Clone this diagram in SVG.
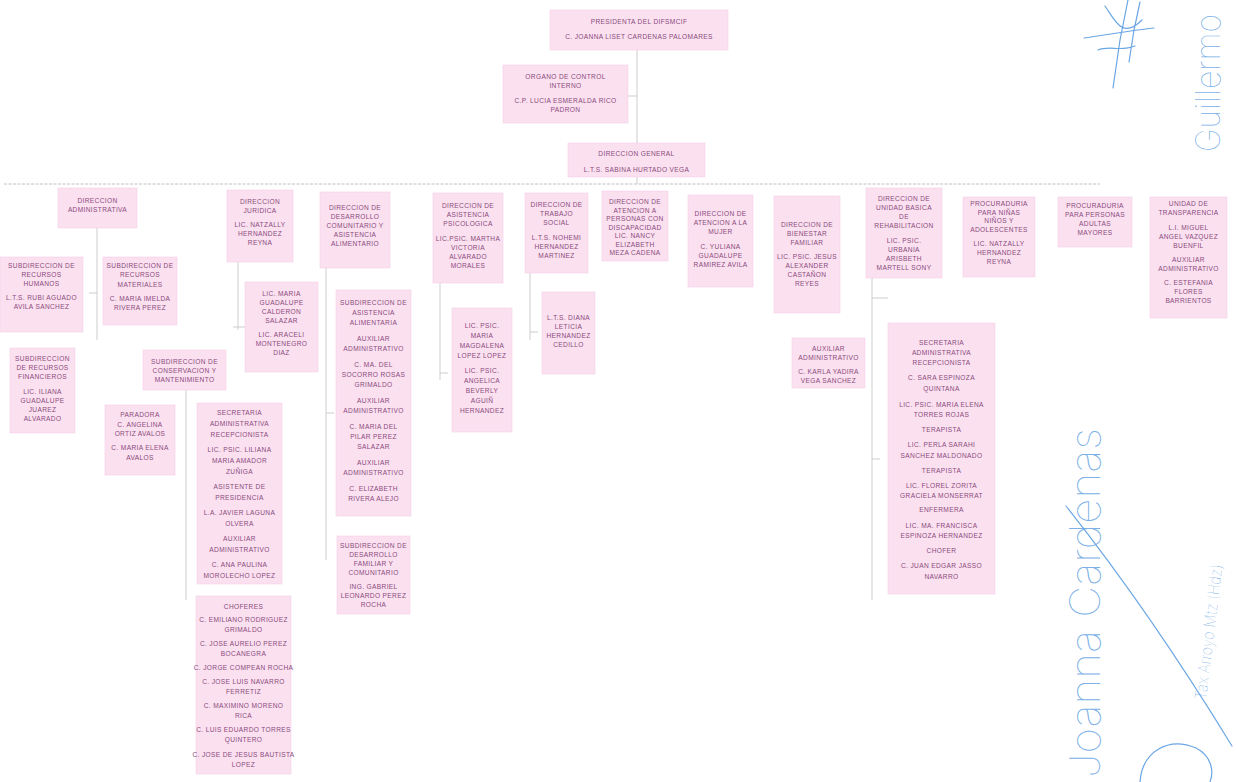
<svg xmlns="http://www.w3.org/2000/svg" width="1236" height="782" viewBox="0 0 1236 782">
<style>
.bx{fill:#fbe0f0;stroke:#f5d0e6;stroke-width:0.6}
.t{font-family:"Liberation Sans",Arial,sans-serif;font-size:6.6px;fill:#8a4b7c;text-anchor:middle;dominant-baseline:central;letter-spacing:0.35px}
.c{stroke:#c9c6c6;stroke-width:0.9;fill:none}
.cd{stroke:#c2bfbf;stroke-width:1;fill:none;stroke-dasharray:3 1.5}
.sig{font-family:Inter,"Open Sans",sans-serif;font-weight:100;fill:#6aa6e4;fill-opacity:0.9}
.sp{stroke:#6aa6e4;stroke-width:1.2;fill:none;stroke-linecap:round}
</style>
<rect width="1236" height="782" fill="#ffffff"/>

<g id="connectors">
<line class="c" x1="637" y1="50" x2="637" y2="143"/>
<line class="c" x1="628" y1="96" x2="637" y2="96"/>
<line class="c" x1="637" y1="177" x2="637" y2="184"/>
<line class="cd" x1="4" y1="184" x2="1100" y2="184"/>
<line class="c" x1="97" y1="228" x2="97" y2="340"/>
<line class="c" x1="89" y1="293" x2="97" y2="293"/>
<line class="c" x1="186" y1="390" x2="186" y2="600"/>
<line class="c" x1="238" y1="262" x2="238" y2="330"/>
<line class="c" x1="233" y1="327" x2="245" y2="327"/>
<line class="c" x1="326" y1="268" x2="326" y2="560"/>
<line class="c" x1="326" y1="413" x2="334" y2="413"/>
<line class="c" x1="440" y1="283" x2="440" y2="380"/>
<line class="c" x1="440" y1="373" x2="448" y2="373"/>
<line class="c" x1="530" y1="273" x2="530" y2="340"/>
<line class="c" x1="530" y1="332" x2="538" y2="332"/>
<line class="c" x1="872" y1="278" x2="872" y2="600"/>
<line class="c" x1="872" y1="298" x2="888" y2="298"/>
<line class="c" x1="872" y1="459" x2="880" y2="459"/>
</g>

<g id="n-presidenta">
<rect class="bx" x="550" y="10" width="178" height="40"/>
<text class="t"><tspan x="639" y="21">PRESIDENTA DEL DIFSMCIF</tspan><tspan x="639" y="36">C. JOANNA LISET CARDENAS PALOMARES</tspan></text>
</g>
<g id="n-organo">
<rect class="bx" x="503" y="65" width="125" height="58"/>
<text class="t"><tspan x="565.5" y="76">ORGANO DE CONTROL</tspan><tspan x="565.5" y="85">INTERNO</tspan><tspan x="565.5" y="100">C.P. LUCIA ESMERALDA RICO</tspan><tspan x="565.5" y="109">PADRON</tspan></text>
</g>
<g id="n-general">
<rect class="bx" x="568" y="143" width="137" height="34"/>
<text class="t"><tspan x="636.5" y="153">DIRECCION GENERAL</tspan><tspan x="636.5" y="169">L.T.S. SABINA HURTADO VEGA</tspan></text>
</g>

<g id="n-admin">
<rect class="bx" x="58" y="188" width="79" height="40"/>
<text class="t"><tspan x="97.5" y="200">DIRECCION</tspan><tspan x="97.5" y="209">ADMINISTRATIVA</tspan></text>
</g>
<g id="n-rh">
<rect class="bx" x="0" y="257" width="83" height="75"/>
<text class="t"><tspan x="41.5" y="265">SUBDIRECCION DE</tspan><tspan x="41.5" y="274">RECURSOS</tspan><tspan x="41.5" y="283">HUMANOS</tspan><tspan x="41.5" y="297">L.T.S. RUBI AGUADO</tspan><tspan x="41.5" y="306">AVILA SANCHEZ</tspan></text>
</g>
<g id="n-rm">
<rect class="bx" x="103" y="257" width="74" height="68"/>
<text class="t"><tspan x="140" y="265">SUBDIRECCION DE</tspan><tspan x="140" y="274">RECURSOS</tspan><tspan x="140" y="284">MATERIALES</tspan><tspan x="140" y="298">C. MARIA IMELDA</tspan><tspan x="140" y="307">RIVERA PEREZ</tspan></text>
</g>
<g id="n-rf">
<rect class="bx" x="10" y="348" width="65" height="85"/>
<text class="t"><tspan x="42.5" y="358">SUBDIRECCION</tspan><tspan x="42.5" y="367">DE RECURSOS</tspan><tspan x="42.5" y="376">FINANCIEROS</tspan><tspan x="42.5" y="391">LIC. ILIANA</tspan><tspan x="42.5" y="400">GUADALUPE</tspan><tspan x="42.5" y="409">JUAREZ</tspan><tspan x="42.5" y="418">ALVARADO</tspan></text>
</g>
<g id="n-conservacion">
<rect class="bx" x="143" y="350" width="83" height="40"/>
<text class="t"><tspan x="184.5" y="361">SUBDIRECCION DE</tspan><tspan x="184.5" y="370">CONSERVACION Y</tspan><tspan x="184.5" y="379">MANTENIMIENTO</tspan></text>
</g>
<g id="n-paradora">
<rect class="bx" x="105" y="405" width="70" height="70"/>
<text class="t"><tspan x="140" y="414">PARADORA</tspan><tspan x="140" y="424">C. ANGELINA</tspan><tspan x="140" y="433">ORTIZ AVALOS</tspan><tspan x="140" y="447">C. MARIA ELENA</tspan><tspan x="140" y="457">AVALOS</tspan></text>
</g>
<g id="n-secretaria-pres">
<rect class="bx" x="197" y="403" width="85" height="181"/>
<text class="t"><tspan x="239.5" y="412">SECRETARIA</tspan><tspan x="239.5" y="423">ADMINISTRATIVA</tspan><tspan x="239.5" y="434">RECEPCIONISTA</tspan><tspan x="239.5" y="449">LIC. PSIC. LILIANA</tspan><tspan x="239.5" y="460">MARIA AMADOR</tspan><tspan x="239.5" y="471">ZUÑIGA</tspan><tspan x="239.5" y="486">ASISTENTE DE</tspan><tspan x="239.5" y="497">PRESIDENCIA</tspan><tspan x="239.5" y="512">L.A. JAVIER LAGUNA</tspan><tspan x="239.5" y="523">OLVERA</tspan><tspan x="239.5" y="538">AUXILIAR</tspan><tspan x="239.5" y="549">ADMINISTRATIVO</tspan><tspan x="239.5" y="564">C. ANA PAULINA</tspan><tspan x="239.5" y="575">MOROLECHO LOPEZ</tspan></text>
</g>
<g id="n-choferes">
<rect class="bx" x="196" y="596" width="95" height="178"/>
<text class="t"><tspan x="243.5" y="606">CHOFERES</tspan><tspan x="243.5" y="619">C. EMILIANO RODRIGUEZ</tspan><tspan x="243.5" y="629">GRIMALDO</tspan><tspan x="243.5" y="643">C. JOSE AURELIO PEREZ</tspan><tspan x="243.5" y="653">BOCANEGRA</tspan><tspan x="243.5" y="667">C. JORGE COMPEAN ROCHA</tspan><tspan x="243.5" y="681">C. JOSE LUIS NAVARRO</tspan><tspan x="243.5" y="691">FERRETIZ</tspan><tspan x="243.5" y="705">C. MAXIMINO MORENO</tspan><tspan x="243.5" y="715">RICA</tspan><tspan x="243.5" y="729">C. LUIS EDUARDO TORRES</tspan><tspan x="243.5" y="739">QUINTERO</tspan><tspan x="243.5" y="754">C. JOSE DE JESUS BAUTISTA</tspan><tspan x="243.5" y="764">LOPEZ</tspan></text>
</g>

<g id="n-juridica">
<rect class="bx" x="227" y="190" width="66" height="72"/>
<text class="t"><tspan x="260" y="201">DIRECCION</tspan><tspan x="260" y="210">JURIDICA</tspan><tspan x="260" y="224">LIC. NATZALLY</tspan><tspan x="260" y="233">HERNANDEZ</tspan><tspan x="260" y="242">REYNA</tspan></text>
</g>
<g id="n-juridica-staff">
<rect class="bx" x="245" y="282" width="73" height="90"/>
<text class="t"><tspan x="281.5" y="293">LIC. MARIA</tspan><tspan x="281.5" y="302">GUADALUPE</tspan><tspan x="281.5" y="311">CALDERON</tspan><tspan x="281.5" y="320">SALAZAR</tspan><tspan x="281.5" y="334">LIC. ARACELI</tspan><tspan x="281.5" y="343">MONTENEGRO</tspan><tspan x="281.5" y="352">DIAZ</tspan></text>
</g>

<g id="n-desarrollo">
<rect class="bx" x="320" y="192" width="70" height="76"/>
<text class="t"><tspan x="355" y="207">DIRECCION DE</tspan><tspan x="355" y="216">DESARROLLO</tspan><tspan x="355" y="225">COMUNITARIO Y</tspan><tspan x="355" y="234">ASISTENCIA</tspan><tspan x="355" y="243">ALIMENTARIO</tspan></text>
</g>
<g id="n-asistencia-alim">
<rect class="bx" x="336" y="290" width="75" height="226"/>
<text class="t"><tspan x="373.5" y="302">SUBDIRECCION DE</tspan><tspan x="373.5" y="312">ASISTENCIA</tspan><tspan x="373.5" y="322">ALIMENTARIA</tspan><tspan x="373.5" y="338">AUXILIAR</tspan><tspan x="373.5" y="348">ADMINISTRATIVO</tspan><tspan x="373.5" y="364">C. MA. DEL</tspan><tspan x="373.5" y="374">SOCORRO ROSAS</tspan><tspan x="373.5" y="384">GRIMALDO</tspan><tspan x="373.5" y="400">AUXILIAR</tspan><tspan x="373.5" y="410">ADMINISTRATIVO</tspan><tspan x="373.5" y="426">C. MARIA DEL</tspan><tspan x="373.5" y="436">PILAR PEREZ</tspan><tspan x="373.5" y="446">SALAZAR</tspan><tspan x="373.5" y="462">AUXILIAR</tspan><tspan x="373.5" y="472">ADMINISTRATIVO</tspan><tspan x="373.5" y="488">C. ELIZABETH</tspan><tspan x="373.5" y="498">RIVERA ALEJO</tspan></text>
</g>
<g id="n-desarrollo-familiar">
<rect class="bx" x="337" y="536" width="73" height="78"/>
<text class="t"><tspan x="373.5" y="545">SUBDIRECCION DE</tspan><tspan x="373.5" y="554">DESARROLLO</tspan><tspan x="373.5" y="563">FAMILIAR Y</tspan><tspan x="373.5" y="572">COMUNITARIO</tspan><tspan x="373.5" y="586">ING. GABRIEL</tspan><tspan x="373.5" y="595">LEONARDO PEREZ</tspan><tspan x="373.5" y="604">ROCHA</tspan></text>
</g>

<g id="n-psicologica">
<rect class="bx" x="433" y="193" width="70" height="90"/>
<text class="t"><tspan x="468" y="205">DIRECCION DE</tspan><tspan x="468" y="214">ASISTENCIA</tspan><tspan x="468" y="223">PSICOLOGICA</tspan><tspan x="468" y="238">LIC.PSIC. MARTHA</tspan><tspan x="468" y="247">VICTORIA</tspan><tspan x="468" y="256">ALVARADO</tspan><tspan x="468" y="265">MORALES</tspan></text>
</g>
<g id="n-psicologica-staff">
<rect class="bx" x="452" y="308" width="60" height="124"/>
<text class="t"><tspan x="482" y="325">LIC. PSIC.</tspan><tspan x="482" y="335">MARIA</tspan><tspan x="482" y="345">MAGDALENA</tspan><tspan x="482" y="355">LOPEZ LOPEZ</tspan><tspan x="482" y="370">LIC. PSIC.</tspan><tspan x="482" y="380">ANGELICA</tspan><tspan x="482" y="390">BEVERLY</tspan><tspan x="482" y="400">AGUIÑ</tspan><tspan x="482" y="410">HERNANDEZ</tspan></text>
</g>

<g id="n-trabajo-social">
<rect class="bx" x="525" y="193" width="63" height="80"/>
<text class="t"><tspan x="556.5" y="204">DIRECCION DE</tspan><tspan x="556.5" y="213">TRABAJO</tspan><tspan x="556.5" y="222">SOCIAL</tspan><tspan x="556.5" y="237">L.T.S. NOHEMI</tspan><tspan x="556.5" y="246">HERNANDEZ</tspan><tspan x="556.5" y="255">MARTINEZ</tspan></text>
</g>
<g id="n-trabajo-social-staff">
<rect class="bx" x="542" y="292" width="53" height="82"/>
<text class="t"><tspan x="568.5" y="317">L.T.S. DIANA</tspan><tspan x="568.5" y="326">LETICIA</tspan><tspan x="568.5" y="335">HERNANDEZ</tspan><tspan x="568.5" y="344">CEDILLO</tspan></text>
</g>

<g id="n-discapacidad">
<rect class="bx" x="602" y="191" width="66" height="70"/>
<text class="t"><tspan x="635" y="201">DIRECCION DE</tspan><tspan x="635" y="209.5">ATENCION A</tspan><tspan x="635" y="218">PERSONAS CON</tspan><tspan x="635" y="226.5">DISCAPACIDAD</tspan><tspan x="635" y="235">LIC. NANCY</tspan><tspan x="635" y="243.5">ELIZABETH</tspan><tspan x="635" y="252">MEZA CADENA</tspan></text>
</g>
<g id="n-mujer">
<rect class="bx" x="688" y="195" width="65" height="92"/>
<text class="t"><tspan x="720.5" y="213">DIRECCION DE</tspan><tspan x="720.5" y="222">ATENCION A LA</tspan><tspan x="720.5" y="231">MUJER</tspan><tspan x="720.5" y="246">C. YULIANA</tspan><tspan x="720.5" y="255">GUADALUPE</tspan><tspan x="720.5" y="264">RAMIREZ AVILA</tspan></text>
</g>
<g id="n-bienestar">
<rect class="bx" x="774" y="196" width="66" height="117"/>
<text class="t"><tspan x="807" y="224">DIRECCION DE</tspan><tspan x="807" y="233">BIENESTAR</tspan><tspan x="807" y="242">FAMILIAR</tspan><tspan x="807" y="256">LIC. PSIC. JESUS</tspan><tspan x="807" y="265">ALEXANDER</tspan><tspan x="807" y="274">CASTAÑON</tspan><tspan x="807" y="283">REYES</tspan></text>
</g>
<g id="n-bienestar-aux">
<rect class="bx" x="792" y="338" width="73" height="50"/>
<text class="t"><tspan x="828.5" y="348">AUXILIAR</tspan><tspan x="828.5" y="357">ADMINISTRATIVO</tspan><tspan x="828.5" y="371">C. KARLA YADIRA</tspan><tspan x="828.5" y="380">VEGA SANCHEZ</tspan></text>
</g>
<g id="n-ubr">
<rect class="bx" x="866" y="188" width="76" height="90"/>
<text class="t"><tspan x="904" y="198">DIRECCION DE</tspan><tspan x="904" y="207">UNIDAD BASICA</tspan><tspan x="904" y="216">DE</tspan><tspan x="904" y="225">REHABILITACION</tspan><tspan x="904" y="240">LIC. PSIC.</tspan><tspan x="904" y="249">URBANIA</tspan><tspan x="904" y="258">ARISBETH</tspan><tspan x="904" y="267">MARTELL SONY</tspan></text>
</g>
<g id="n-ubr-staff">
<rect class="bx" x="888" y="323" width="107" height="271"/>
<text class="t"><tspan x="941.5" y="342">SECRETARIA</tspan><tspan x="941.5" y="352">ADMINISTRATIVA</tspan><tspan x="941.5" y="362">RECEPCIONISTA</tspan><tspan x="941.5" y="377">C. SARA ESPINOZA</tspan><tspan x="941.5" y="388">QUINTANA</tspan><tspan x="941.5" y="404">LIC. PSIC. MARIA ELENA</tspan><tspan x="941.5" y="414">TORRES ROJAS</tspan><tspan x="941.5" y="429">TERAPISTA</tspan><tspan x="941.5" y="444">LIC. PERLA SARAHI</tspan><tspan x="941.5" y="455">SANCHEZ MALDONADO</tspan><tspan x="941.5" y="470">TERAPISTA</tspan><tspan x="941.5" y="485">LIC. FLOREL ZORITA</tspan><tspan x="941.5" y="495">GRACIELA MONSERRAT</tspan><tspan x="941.5" y="509">ENFERMERA</tspan><tspan x="941.5" y="525">LIC. MA. FRANCISCA</tspan><tspan x="941.5" y="535">ESPINOZA HERNANDEZ</tspan><tspan x="941.5" y="550">CHOFER</tspan><tspan x="941.5" y="565">C. JUAN EDGAR JASSO</tspan><tspan x="941.5" y="576">NAVARRO</tspan></text>
</g>
<g id="n-proc-nna">
<rect class="bx" x="963" y="197" width="72" height="80"/>
<text class="t"><tspan x="999" y="203">PROCURADURIA</tspan><tspan x="999" y="212">PARA NIÑAS</tspan><tspan x="999" y="220">NIÑOS Y</tspan><tspan x="999" y="229">ADOLESCENTES</tspan><tspan x="999" y="243">LIC. NATZALLY</tspan><tspan x="999" y="252">HERNANDEZ</tspan><tspan x="999" y="261">REYNA</tspan></text>
</g>
<g id="n-proc-am">
<rect class="bx" x="1058" y="197" width="74" height="50"/>
<text class="t"><tspan x="1095" y="205">PROCURADURIA</tspan><tspan x="1095" y="214">PARA PERSONAS</tspan><tspan x="1095" y="223">ADULTAS</tspan><tspan x="1095" y="232">MAYORES</tspan></text>
</g>
<g id="n-transparencia">
<rect class="bx" x="1150" y="197" width="77" height="121"/>
<text class="t"><tspan x="1188.5" y="203">UNIDAD DE</tspan><tspan x="1188.5" y="212">TRANSPARENCIA</tspan><tspan x="1188.5" y="227">L.I. MIGUEL</tspan><tspan x="1188.5" y="236">ANGEL VAZQUEZ</tspan><tspan x="1188.5" y="245">BUENFIL</tspan><tspan x="1188.5" y="259">AUXILIAR</tspan><tspan x="1188.5" y="268">ADMINISTRATIVO</tspan><tspan x="1188.5" y="282">C. ESTEFANIA</tspan><tspan x="1188.5" y="291">FLORES</tspan><tspan x="1188.5" y="300">BARRIENTOS</tspan></text>
</g>

<g id="signatures">
<path class="sp" d="M1128,0 L1120,40 L1113,88 M1140,2 L1134,30 L1129,62 M1084,38 C1110,34 1135,30 1154,28 M1105,6 C1115,20 1122,40 1142,20 M1098,50 C1110,45 1120,52 1135,46"/>
<text class="sig" font-size="34" transform="translate(1220,152) rotate(-90)" textLength="138" lengthAdjust="spacingAndGlyphs">Guillermo</text>
<text class="sig" font-size="42" transform="translate(1100,778) rotate(-90)" textLength="350" lengthAdjust="spacingAndGlyphs">Joanna Cardenas</text>
<text class="sig" font-size="16" transform="translate(1206,700) rotate(-83)" textLength="136" lengthAdjust="spacingAndGlyphs">Tax Arroyo Mtz (Hdz)</text>
<path class="sp" d="M1066,506 Q1150,612 1232,746"/>
<path class="sp" d="M1140,782 C1142,752 1168,736 1196,748 C1212,756 1214,772 1210,782"/>
</g>
</svg>
